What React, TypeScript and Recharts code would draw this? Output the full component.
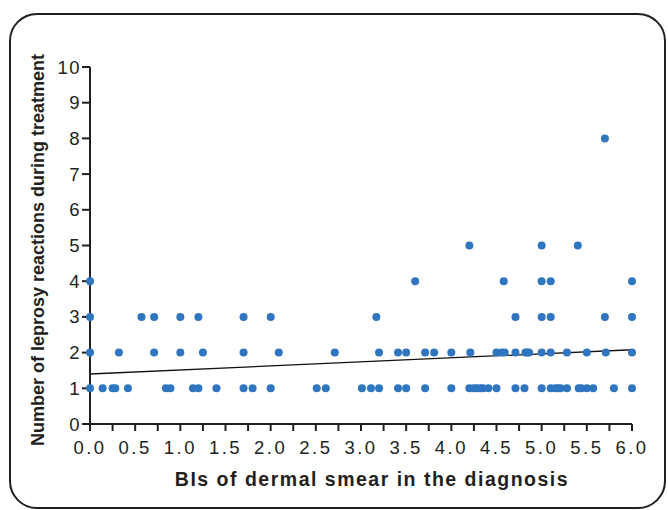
import React from 'react';
import { ScatterChart, Scatter, XAxis, YAxis, ReferenceLine, Label } from 'recharts';

// BI values of patients, grouped by the number of reactions they had
const biWith1 = [0.0, 0.14, 0.25, 0.28, 0.42, 0.84, 0.89, 1.14, 1.2, 1.4, 1.7, 1.8, 2.0, 2.51, 2.61, 3.01, 3.11, 3.2, 3.41, 3.5, 3.71, 4.0, 4.2, 4.25, 4.28, 4.32, 4.35, 4.41, 4.5, 4.71, 4.81, 5.0, 5.1, 5.15, 5.18, 5.21, 5.28, 5.41, 5.44, 5.5, 5.57, 5.8, 6.0];
const biWith2 = [0.0, 0.32, 0.71, 1.0, 1.25, 1.7, 2.09, 2.71, 3.2, 3.41, 3.5, 3.71, 3.81, 4.0, 4.21, 4.5, 4.56, 4.59, 4.71, 4.82, 4.84, 4.86, 5.0, 5.1, 5.28, 5.5, 5.71, 6.0];
const biWith3 = [0.0, 0.57, 0.71, 1.0, 1.2, 1.7, 2.0, 3.17, 4.71, 5.0, 5.1, 5.7, 6.0];
const biWith4 = [0.0, 3.6, 4.58, 5.0, 5.1, 6.0];
const biWith5 = [4.2, 5.0, 5.4];
const biWith8 = [5.7];

const xTicks = [0, 0.25, 0.5, 0.75, 1, 1.25, 1.5, 1.75, 2, 2.25, 2.5, 2.75, 3, 3.25, 3.5, 3.75, 4, 4.25, 4.5, 4.75, 5, 5.25, 5.5, 5.75, 6];
const yTicks = [0, 1, 2, 3, 4, 5, 6, 7, 8, 9, 10];

// linear regression line
const trendLine = [{ x: 0, y: 1.4 }, { x: 6, y: 2.08 }];

const groups: [number, number[]][] = [[1, biWith1], [2, biWith2], [3, biWith3], [4, biWith4], [5, biWith5], [8, biWith8]];
const points = groups.flatMap(([n, xs]) => xs.map(x => ({ x, y: n })));

const AXIS = '#231f20';
const DOT = '#2f75c0';
const FONT = 'Arial, "Liberation Sans", Helvetica, sans-serif';

export default function App() {
  return (
    <div style={{ position: 'absolute', left: 0, top: 0, width: 668, height: 510, background: '#fff', fontFamily: FONT }}>
      <div style={{
        position: 'absolute', left: 9, top: 13, width: 657, height: 496, boxSizing: 'border-box',
        border: `2px solid ${AXIS}`, borderRadius: 28
      }} />
      <ScatterChart width={668} height={510} margin={{ top: 67, right: 36, bottom: 0, left: 0 }} style={{ position: 'absolute', left: 0, top: 0 }}>
        <XAxis
          type="number" dataKey="x" domain={[0, 6]} ticks={xTicks} interval={0} height={86}
          tickFormatter={(v: number) => (Math.round(v * 4) % 2 === 0 ? v.toFixed(1) : '')}
          tickSize={7} tickMargin={10}
          axisLine={{ stroke: AXIS, strokeWidth: 2 }} tickLine={{ stroke: AXIS, strokeWidth: 2 }}
          tick={{ fill: '#231f20', fontSize: 18.5, fontFamily: FONT, letterSpacing: 2.5 }}
        >
          <Label content={() => (
            <text x={372} y={486} textAnchor="middle" fontSize={19.5} letterSpacing={1.5} fontWeight="bold" fill="#231f20" fontFamily={FONT}>
              BIs of dermal smear in the diagnosis
            </text>
          )} />
        </XAxis>
        <YAxis
          type="number" dataKey="y" domain={[0, 10]} ticks={yTicks} interval={0} width={90}
          tickSize={8} tickMargin={1}
          axisLine={{ stroke: AXIS, strokeWidth: 2 }} tickLine={{ stroke: AXIS, strokeWidth: 2 }}
          tick={{ fill: '#231f20', fontSize: 18.5, fontFamily: FONT, letterSpacing: 1.5 }}
        >
          <Label content={() => (
            <text x={44} y={250} transform="rotate(-90 44 250)" textAnchor="middle" fontSize={18} fontWeight="bold" fill="#231f20" fontFamily={FONT}>
              Number of leprosy reactions during treatment
            </text>
          )} />
        </YAxis>
        <ReferenceLine segment={trendLine} stroke="#111" strokeWidth={1.3} ifOverflow="visible" />
        <Scatter
          data={points} isAnimationActive={false}
          shape={(p: any) => <circle cx={p.cx} cy={p.cy} r={4} fill={DOT} />}
        />
      </ScatterChart>
    </div>
  );
}
